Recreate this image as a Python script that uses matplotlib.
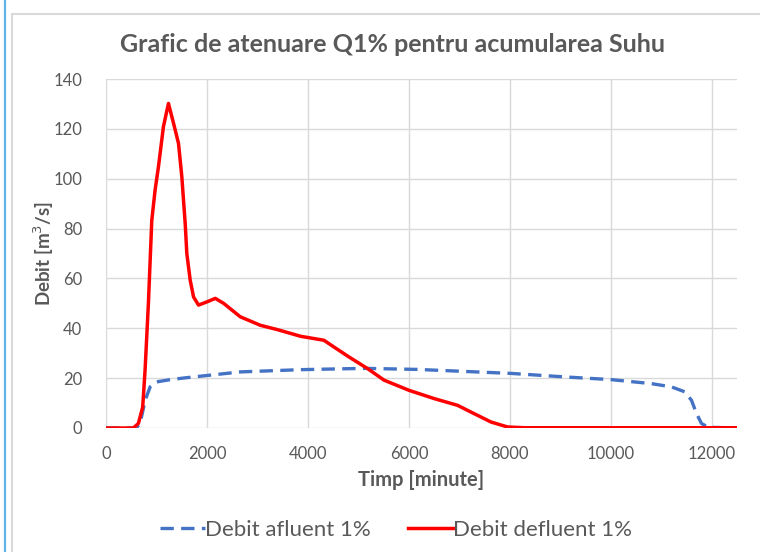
import matplotlib
matplotlib.use("Agg")
import matplotlib.pyplot as plt
from matplotlib.patches import Rectangle
from matplotlib.lines import Line2D

plt.rcParams['font.family'] = ['Lato', 'DejaVu Sans']

# Hydrographs (time in minutes, discharge in m3/s)
t_afluent = [0, 600, 675, 774, 874, 1006, 1271, 1601, 2066, 2661, 3853, 4813, 5177,
             6170, 8023, 9083, 10010, 10805, 11202, 11467, 11599, 11698, 11797,
             11930, 12500]
q_afluent = [0, 0, 1.8, 11, 16.5, 18.5, 19.4, 20.2, 21.2, 22.5, 23.4, 23.8, 23.9,
             23.5, 21.9, 20.5, 19.4, 17.8, 16.5, 14.5, 11.1, 5.8, 1.8,
             0.3, 0]

t_defluent = [0, 541, 641, 727, 774, 840, 907, 973, 1039, 1138, 1237, 1337,
              1436, 1502, 1569, 1601, 1668, 1734, 1833, 2000, 2165, 2330,
              2661, 3058, 3389, 3853, 4316, 4515, 4813, 5177, 5508, 6004, 6501,
              6964, 7229, 7627, 7957, 8300, 12500]
q_defluent = [0, 0, 1.8, 8.4, 23.2, 50, 83.3, 95.5, 104.8, 120.9, 130.2, 122.3,
              114.2, 100.8, 82, 70, 59.3, 52.6, 49.3, 50.6, 52, 50,
              44.6, 41.2, 39.5, 36.8, 35.2, 32.5, 28.5, 23.9, 19.2, 15.1, 11.8,
              9.1, 6.4, 2.4, 0.4, 0.1, 0.1]

x_ticks = [0, 2000, 4000, 6000, 8000, 10000, 12000]
y_ticks = [0, 20, 40, 60, 80, 100, 120, 140]

title = "Grafic de atenuare Q1% pentru acumularea Suhu"
x_label = "Timp [minute]"
y_label = "Debit [m$^3$/s]"
label_afluent = "Debit afluent 1%"
label_defluent = "Debit defluent 1%"

text_col = "#595959"
grid_col = "#d9d9d9"

fig = plt.figure(figsize=(7.6, 5.52), dpi=100)
W, H = 760, 552

# chart frame and side rule
fig.patches.append(Rectangle((12 / W, -0.1), 1.2, 1 - 14 / H + 0.1,
                             transform=fig.transFigure, fill=False,
                             edgecolor="#d9d9d9", lw=1.5))
fig.lines.append(Line2D([5 / W, 5 / W], [0, 1], transform=fig.transFigure,
                        color="#5bb5e6", lw=1.6))

ax = fig.add_axes([106 / W, 1 - 428 / H, (737 - 106) / W, (428 - 79) / H])

ax.plot(t_afluent, q_afluent, color="#4472c4", lw=2.4, ls=(0, (4, 2.2)),
        label=label_afluent, zorder=3, dash_capstyle="butt")
ax.plot(t_defluent, q_defluent, color="#ff0000", lw=2.5,
        label=label_defluent, zorder=4, solid_joinstyle="round")

ax.set_xlim(0, 12500)
ax.set_ylim(0, 140)
ax.set_xticks(x_ticks)
ax.set_yticks(y_ticks)
ax.grid(True, color=grid_col, lw=1.0)
ax.set_axisbelow(True)
for s in ax.spines.values():
    s.set_visible(False)
ax.tick_params(axis="x", length=0, colors=text_col, labelsize=12, pad=13)
ax.tick_params(axis="y", length=0, colors=text_col, labelsize=12, pad=17)

ax.set_xlabel(x_label, fontsize=14.5, fontweight="bold", color=text_col, labelpad=6)
ax.set_ylabel(y_label, fontsize=13.5, fontweight="bold", color=text_col, labelpad=-2)

fig.text(393 / W, 1 - 45 / H, title, ha="center", va="center",
         fontsize=18, fontweight="bold", color=text_col)

leg = fig.legend(loc="center", bbox_to_anchor=(396 / W, 1 - 530 / H), ncol=2,
                 frameon=False, fontsize=16, handlelength=2.0, handletextpad=0.0,
                 columnspacing=1.7)
for txt in leg.get_texts():
    txt.set_color(text_col)

fig.savefig("out.png", dpi=100)
